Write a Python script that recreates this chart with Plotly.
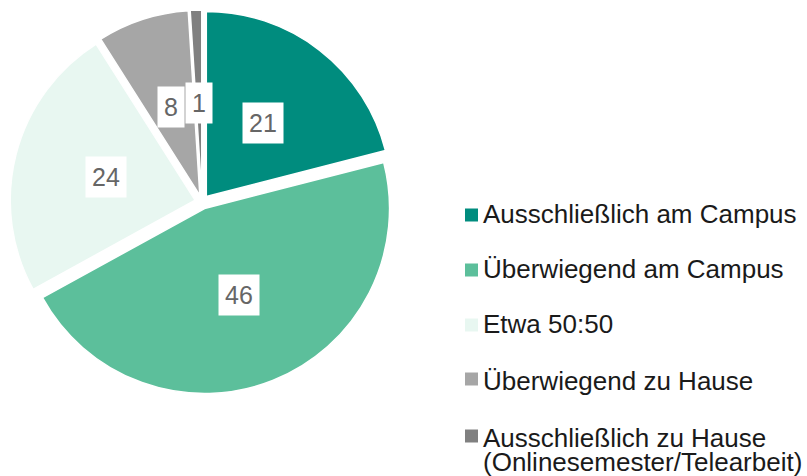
import numpy as np
import plotly.graph_objects as go

labels = [
    "Ausschließlich am Campus",
    "Überwiegend am Campus",
    "Etwa 50:50",
    "Überwiegend zu Hause",
    "Ausschließlich zu Hause<br>(Onlinesemester/Telearbeit)",
]
values = [21, 46, 24, 8, 1]
colors = ["#008C7E", "#5CBF9B", "#E8F7F1", "#A6A6A6", "#808080"]

W, H = 807, 476
FONT = "Arial, Liberation Sans, sans-serif"
CX, CY = 202, 202          # pie centre in pixels (from top)
PULL = 0.038
HALF = 192                 # half size of pie domain in pixels

fig = go.Figure(go.Pie(
    labels=[l.replace("<br>", " ") for l in labels],
    values=values,
    sort=False,
    direction="clockwise",
    rotation=0,
    pull=PULL,
    marker={"colors": colors, "line": {"color": "white", "width": 1.5}},
    textinfo="none",
    hovertemplate="%{label}: %{value}<extra></extra>",
    showlegend=False,
    domain={"x": [(CX - HALF) / W, (CX + HALF) / W],
            "y": [(H - CY - HALF) / H, (H - CY + HALF) / H]},
))

# ── value labels in white boxes at the mid angle of each slice ────────────────
r = HALF / (1 + PULL)
total = sum(values)
cum = np.cumsum([0] + values[:-1])
annotations = []
for v, c in zip(values, cum):
    theta = 2 * np.pi * (c + v / 2) / total
    d = 0.5 * r + PULL * r
    lx = CX + d * np.sin(theta)
    ly = CY - d * np.cos(theta)
    annotations.append({
        "text": str(v), "x": lx / W, "y": 1 - ly / H,
        "xref": "paper", "yref": "paper", "showarrow": False,
        "xanchor": "center", "yanchor": "middle",
        "bgcolor": "white", "borderpad": 6,
        "font": {"size": 25, "color": "#666666", "family": FONT},
    })

# ── legend drawn by hand (Excel style spacing) ────────────────────────────────
sq_y = [215, 270, 325, 379, 436]
txt_y = [214, 269, 324, 381, 438]
shapes = []
for lab, col, sy, ty in zip(labels, colors, sq_y, txt_y):
    shapes.append({
        "type": "rect", "xref": "paper", "yref": "paper",
        "x0": 465 / W, "x1": 478 / W,
        "y0": 1 - (sy + 6.5) / H, "y1": 1 - (sy - 6.5) / H,
        "fillcolor": col, "line": {"width": 0},
    })
    for i, part in enumerate(lab.split("<br>")):
        annotations.append({
            "text": part, "x": 481 / W, "y": 1 - (ty + 24 * i) / H,
            "xref": "paper", "yref": "paper", "showarrow": False,
            "xanchor": "left", "yanchor": "middle",
            "font": {"size": 26, "color": "#1a1a1a", "family": FONT},
        })

fig.update_layout(
    width=W, height=H,
    paper_bgcolor="white",
    margin={"l": 0, "r": 0, "t": 0, "b": 0, "autoexpand": False},
    font={"family": FONT, "color": "#1a1a1a"},
    annotations=annotations,
    shapes=shapes,
    showlegend=False,
)

fig.write_html("out.html", config={"displayModeBar": False},
               post_script="document.body.style.margin = '0';")
